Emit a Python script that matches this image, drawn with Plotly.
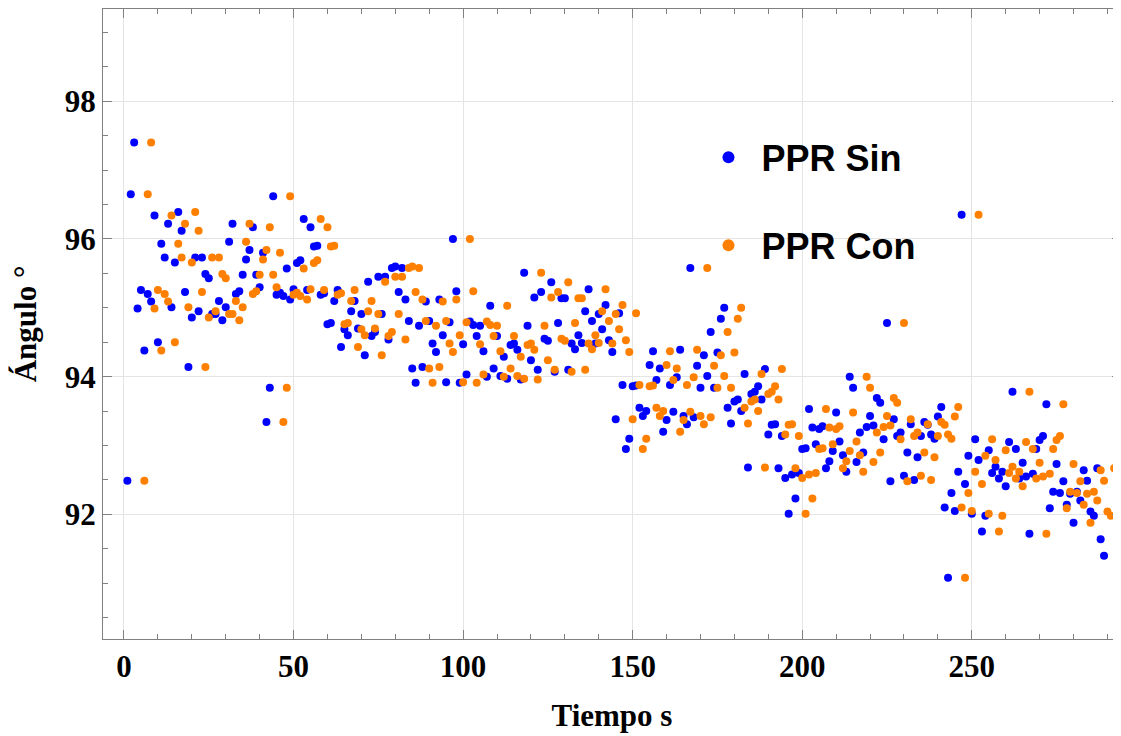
import plotly.graph_objects as go

# Time in seconds (one reading per second)
sin_tiempo = list(range(1, 290))
con_tiempo = list(range(6, 295))

sin_angulo = [
    92.49, 96.65, 97.40, 94.99, 95.26, 94.38, 95.20, 95.09, 96.34, 94.50,
    95.93, 95.73, 96.22, 95.01, 95.66, 96.39, 96.12, 95.23, 94.14, 94.86,
    95.73, 94.95, 95.73, 95.49, 95.43, 94.91, 94.91, 95.10, 94.82, 95.01,
    95.96, 96.22, 95.20, 95.24, 95.48, 95.70, 95.84, 96.17, 95.48, 95.30,
    95.80, 93.34, 93.84, 96.62, 95.19, 95.22, 95.17, 95.57, 95.12, 95.27,
    95.65, 95.69, 96.29, 95.26, 96.17, 95.89, 95.90, 95.19, 95.21, 94.76,
    94.78, 95.10, 95.26, 94.43, 94.69, 94.60, 94.95, 95.10, 94.70, 94.91,
    94.31, 95.38, 94.59, 94.65, 95.45, 94.91, 95.45, 94.54, 95.58, 95.60,
    95.23, 95.58, 95.12, 94.81, 94.12, 93.91, 94.74, 94.14, 95.09, 94.81,
    94.48, 94.36, 95.12, 94.60, 93.92, 94.79, 96.00, 95.24, 93.91, 94.47,
    94.03, 94.80, 94.75, 94.59, 94.74, 94.37, 94.00, 95.03, 94.12, 94.59,
    94.01, 94.29, 93.97, 94.46, 94.48, 94.39, 93.96, 95.51, 94.74, 94.24,
    95.15, 94.10, 95.23, 94.55, 94.52, 95.37, 94.07, 94.78, 95.14, 95.14,
    94.10, 94.48, 94.40, 94.60, 94.49, 94.95, 95.27, 94.81, 94.48, 94.91,
    94.69, 95.04, 94.53, 94.36, 93.38, 94.92, 93.88, 92.95, 93.10, 93.86,
    93.87, 93.55, 93.43, 93.50, 94.17, 94.37, 93.95, 94.12, 93.20, 93.37,
    93.88, 93.49, 93.99, 94.39, 93.43, 93.31, 95.58, 93.41, 94.16, 93.84,
    94.31, 94.01, 94.65, 93.84, 94.35, 94.84, 95.00, 93.55, 93.32, 93.64,
    93.67, 93.50, 94.04, 92.68, 93.75, 93.78, 93.86, 93.67, 94.11, 93.16,
    93.30, 93.31, 92.67, 93.14, 92.53, 92.01, 92.58, 92.23, 92.60, 92.95,
    92.96, 93.53, 93.26, 93.02, 93.24, 93.28, 92.67, 92.77, 92.92, 93.48,
    93.06, 92.86, 92.62, 94.00, 93.84, 92.76, 93.19, 92.90, 93.27, 93.43,
    93.29, 93.69, 93.62, 93.09, 94.78, 92.48, 93.38, 93.14, 93.19, 92.56,
    92.90, 93.31, 92.50, 92.83, 93.14, 93.34, 93.30, 93.16, 93.10, 93.42,
    93.56, 92.10, 91.08, 92.31, 92.05, 92.62, 96.35, 92.44, 92.85, 92.01,
    93.09, 92.79, 91.75, 91.98, 92.93, 92.60, 92.69, 92.52, 92.62, 92.41,
    93.05, 93.78, 92.95, 92.52, 92.75, 92.55, 91.72, 92.59, 92.95, 93.08,
    93.14, 93.60, 92.09, 92.33, 92.73, 92.31, 92.48, 92.14, 92.30, 91.88,
    92.33, 92.20, 92.64, 92.49, 92.04, 91.98, 92.67, 91.64, 91.40,
]

con_angulo = [
    92.49, 96.65, 97.40, 94.99, 95.26, 94.38, 95.20, 95.09, 96.34, 94.50,
    95.93, 95.73, 96.22, 95.01, 95.66, 96.39, 96.12, 95.23, 94.14, 94.86,
    95.73, 94.95, 95.73, 95.49, 95.43, 94.91, 94.91, 95.10, 94.82, 95.01,
    95.96, 96.22, 95.20, 95.24, 95.48, 95.70, 95.84, 96.17, 95.48, 95.30,
    95.80, 93.34, 93.84, 96.62, 95.19, 95.22, 95.17, 95.57, 95.12, 95.27,
    95.65, 95.69, 96.29, 95.26, 96.17, 95.89, 95.90, 95.19, 95.21, 94.76,
    94.78, 95.10, 95.26, 94.43, 94.69, 94.60, 94.95, 95.10, 94.70, 94.91,
    94.31, 95.38, 94.59, 94.65, 95.45, 94.91, 95.45, 94.54, 95.58, 95.60,
    95.23, 95.58, 95.12, 94.81, 94.12, 93.91, 94.74, 94.14, 95.09, 94.81,
    94.48, 94.36, 95.12, 94.60, 93.92, 94.79, 96.00, 95.24, 93.91, 94.47,
    94.03, 94.80, 94.75, 94.59, 94.74, 94.37, 94.00, 95.03, 94.12, 94.59,
    94.01, 94.29, 93.97, 94.46, 94.48, 94.39, 93.96, 95.51, 94.74, 94.24,
    95.15, 94.10, 95.23, 94.55, 94.52, 95.37, 94.07, 94.78, 95.14, 95.14,
    94.10, 94.48, 94.40, 94.60, 94.49, 94.95, 95.27, 94.81, 94.48, 94.91,
    94.69, 95.04, 94.53, 94.36, 93.38, 94.92, 93.88, 92.95, 93.10, 93.86,
    93.87, 93.55, 93.43, 93.50, 94.17, 94.37, 93.95, 94.12, 93.20, 93.37,
    93.88, 93.49, 93.99, 94.39, 93.43, 93.31, 95.58, 93.41, 94.16, 93.84,
    94.31, 94.01, 94.65, 93.84, 94.35, 94.84, 95.00, 93.55, 93.32, 93.64,
    93.67, 93.50, 94.04, 92.68, 93.75, 93.78, 93.86, 93.67, 94.11, 93.16,
    93.30, 93.31, 92.67, 93.14, 92.53, 92.01, 92.58, 92.23, 92.60, 92.95,
    92.96, 93.53, 93.26, 93.02, 93.24, 93.28, 92.67, 92.77, 92.92, 93.48,
    93.06, 92.86, 92.62, 94.00, 93.84, 92.76, 93.19, 92.90, 93.27, 93.43,
    93.29, 93.69, 93.62, 93.09, 94.78, 92.48, 93.38, 93.14, 93.19, 92.56,
    92.90, 93.31, 92.50, 92.83, 93.14, 93.34, 93.30, 93.16, 93.10, 93.42,
    93.56, 92.10, 91.08, 92.31, 92.05, 92.62, 96.35, 92.44, 92.85, 92.01,
    93.09, 92.79, 91.75, 91.98, 92.93, 92.60, 92.69, 92.52, 92.62, 92.41,
    93.05, 93.78, 92.95, 92.52, 92.75, 92.55, 91.72, 92.59, 92.95, 93.08,
    93.14, 93.60, 92.09, 92.33, 92.73, 92.31, 92.48, 92.14, 92.30, 91.88,
    92.33, 92.20, 92.64, 92.49, 92.04, 91.98, 92.67, 91.64, 91.40,
]

x_ticks = [0, 50, 100, 150, 200, 250]
y_ticks = [92, 94, 96, 98]

serif = dict(family="Liberation Serif, Times New Roman, serif", size=31, color="black", weight="bold")

fig = go.Figure()
fig.add_trace(go.Scatter(
    x=sin_tiempo, y=sin_angulo, mode="markers", name="PPR Sin",
    legendgroup="sin",
    marker=dict(color="#0000ff", size=8, line=dict(width=0)),
))
fig.add_trace(go.Scatter(
    x=con_tiempo, y=con_angulo, mode="markers", name="PPR Con",
    legendgroup="con",
    marker=dict(color="#ff8000", size=8, line=dict(width=0)),
))

axis_common = dict(
    showline=True, linecolor="#808080", linewidth=1.3, mirror="ticks",
    ticks="inside", ticklen=9, tickwidth=1.2, tickcolor="#808080",
    showgrid=True, gridcolor="#e4e4e4", gridwidth=1, zeroline=False,
    tickfont=serif, automargin=False,
)

# The page body adds an 8 px offset, so the figure is 8 px smaller on each axis.
fig.update_layout(
    width=1113, height=728,
    margin=dict(l=95, r=0, t=1, b=97),
    paper_bgcolor="white", plot_bgcolor="white",
    xaxis=dict(
        range=[-6.19, 294.0], tickvals=x_ticks,
        minor=dict(dtick=10, tick0=0, ticks="inside", ticklen=5, tickcolor="#808080", showgrid=False),
        title=dict(text="Tiempo s", font=serif, standoff=20),
        **axis_common,
    ),
    yaxis=dict(
        range=[90.19, 99.34], tickvals=y_ticks,
        minor=dict(dtick=0.5, tick0=90, ticks="inside", ticklen=5, tickcolor="#808080", showgrid=False),
        title=dict(text="Ángulo °", font=serif, standoff=20),
        **axis_common,
    ),
    legend=dict(
        x=0.582, y=0.812, xanchor="left", yanchor="top",
        bgcolor="rgba(0,0,0,0)", borderwidth=0,
        font=dict(family="Liberation Sans, Arial, sans-serif", size=36, color="black", weight="bold"),
        itemsizing="constant", itemwidth=56, tracegroupgap=38,
    ),
    showlegend=True,
)

fig.write_html("out.html")
